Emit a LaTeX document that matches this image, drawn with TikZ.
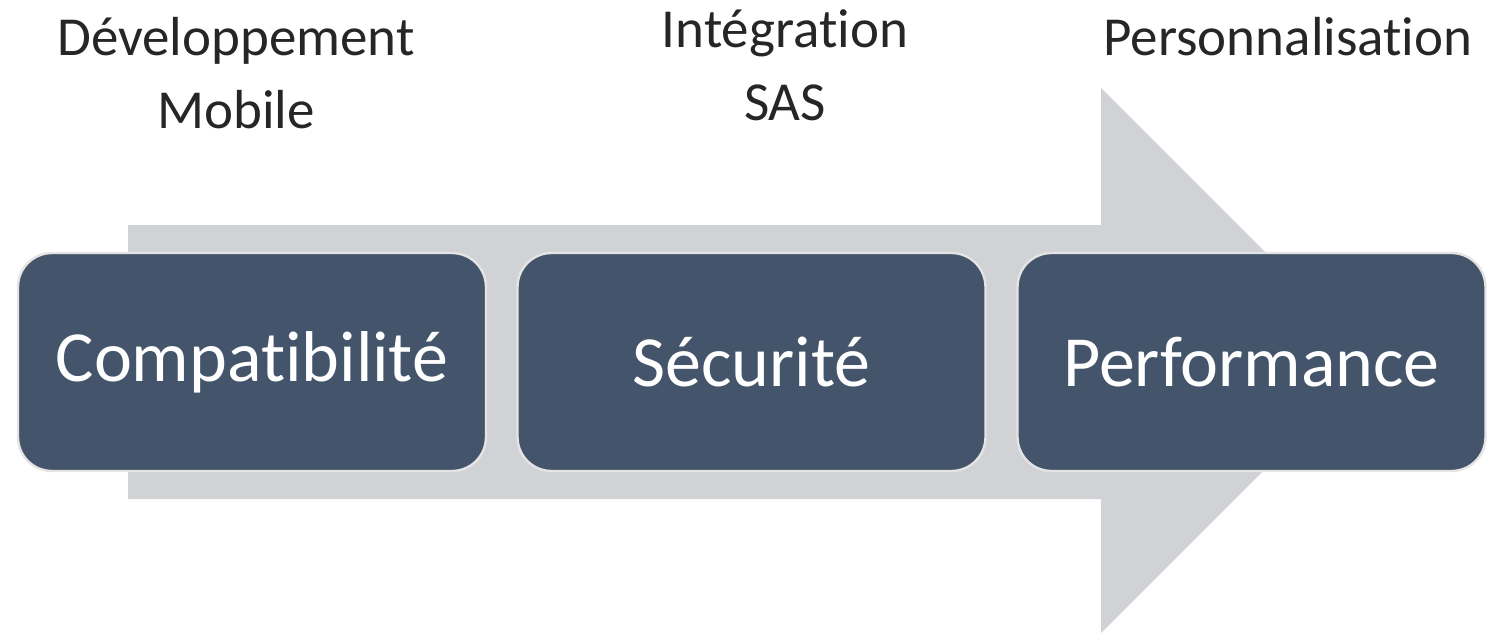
\documentclass[tikz,border=0pt]{standalone}
\usepackage{fontspec}
\setmainfont{Carlito}[Ligatures={NoCommon}]
\definecolor{boxfill}{HTML}{44546A}
\definecolor{boxline}{HTML}{E4E4E4}
\definecolor{arrowfill}{HTML}{D0D2D6}
\definecolor{labeltext}{HTML}{262626}
\tikzset{
  phase/.style={draw=boxline, line width=1.2pt, fill=boxfill, rounded corners=17pt,
    minimum width=234pt, minimum height=109pt, inner sep=0pt, text=white,
    font=\fontsize{36}{43}\selectfont},
  toplabel/.style={text=labeltext, align=center, inner sep=0pt, anchor=base,
    font=\fontsize{27.5}{36.5}\selectfont},
}
\begin{document}
\begin{tikzpicture}[x=0.5pt,y=-0.5pt]
\useasboundingbox (0,0) rectangle (1500,633);
\fill[arrowfill] (128,225) -- (1101,225) -- (1101,88) -- (1373.5,360.5) -- (1101,633) -- (1101,499) -- (128,499) -- cycle;
\node[phase] (b1) at (252,362) {Compatibilité};
\node[phase] (b2) at (751.5,362) {Sécurité};
\node[phase] (b3) at (1251.5,362) {Performance};
\node[toplabel] (l1) at (236,128) {Développement\\Mobile};
\node[toplabel] (l2) at (785,120) {Intégration\\SAS};
\node[toplabel] (l3) at (1288,55) {Personnalisation};
\end{tikzpicture}
\end{document}
